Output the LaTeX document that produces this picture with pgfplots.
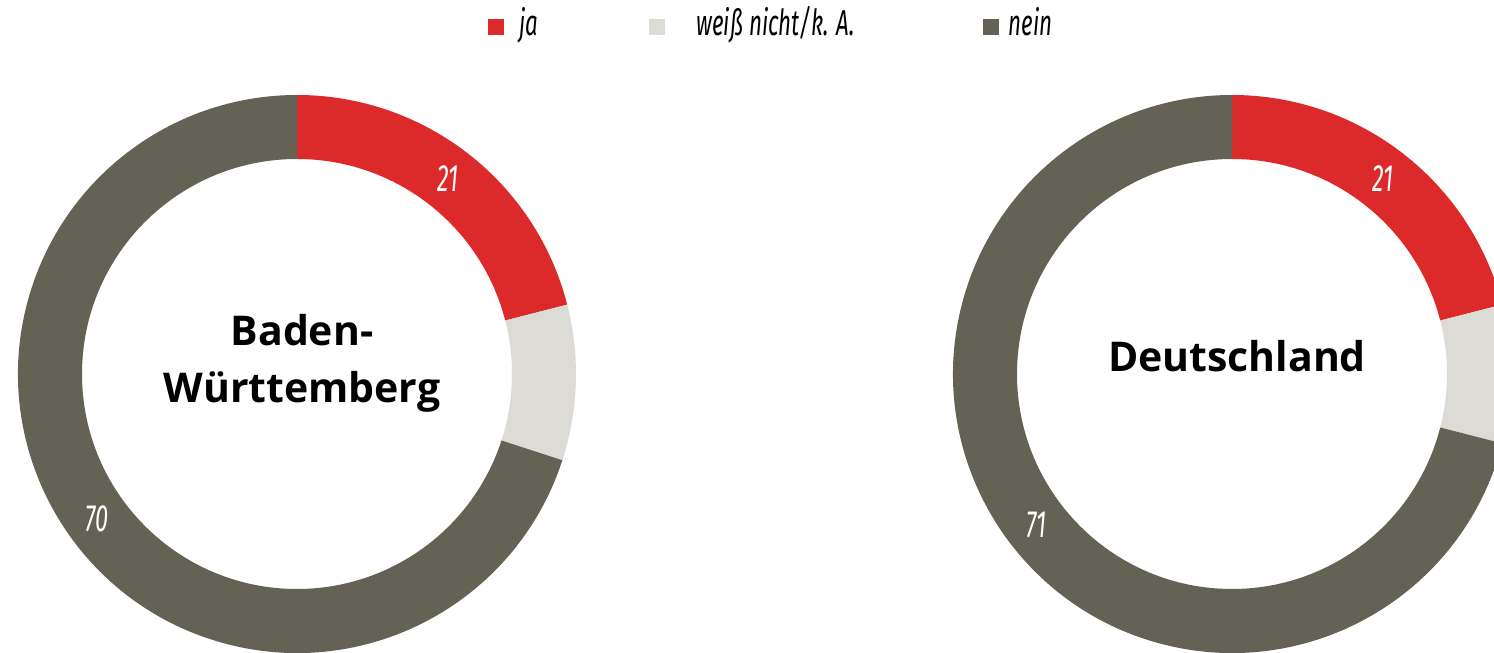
\documentclass[border=0pt]{standalone}
\usepackage{fontspec}
\setmainfont{Fira Sans}
\newfontfamily\legfont[FakeStretch=0.62]{Fira Sans}
\newfontfamily\boldfont{Open Sans}
\usepackage{pgfplots}
\usepackage{pgfplotstable}
\pgfplotsset{compat=1.18}
\definecolor{cja}{HTML}{DC2A2B}
\definecolor{cwn}{HTML}{DCDBD6}
\definecolor{cnein}{HTML}{646254}

\pgfplotstableread{
answer value color
ja 21 cja
wn 9 cwn
nein 70 cnein
}\bwtable
\pgfplotstableread{
answer value color
ja 21 cja
wn 8 cwn
nein 71 cnein
}\detable

% #1 table, #2 cx, #3 cy (axis units = pt)
\newcommand\donut[3]{%
  \def\cum{0}%
  \pgfplotstablegetrowsof{#1}%
  \pgfmathtruncatemacro\lastrow{\pgfplotsretval-1}%
  \pgfplotsforeachungrouped \r in {0,...,\lastrow}{%
    \pgfplotstablegetelem{\r}{value}\of{#1}\let\v\pgfplotsretval
    \pgfplotstablegetelem{\r}{color}\of{#1}\let\c\pgfplotsretval
    \pgfmathsetmacro\aone{90-3.6*\cum}%
    \pgfmathsetmacro\atwo{90-3.6*(\cum+\v)}%
    \pgfmathsetmacro\amid{(\aone+\atwo)/2}%
    \pgfmathsetmacro\cum{\cum+\v}%
    \edef\temp{\noexpand\fill[\c,shift={(axis cs:#2,#3)}] (\aone:279pt) arc[start angle=\aone,end angle=\atwo,radius=279pt] -- (\atwo:215pt) arc[start angle=\atwo,end angle=\aone,radius=215pt] -- cycle;}%
    \temp
    \ifnum\v>10
      \edef\temp{\noexpand\node[text=white,font=\noexpand\legfont\noexpand\itshape\noexpand\fontsize{38}{44}\noexpand\selectfont,shift={(axis cs:#2,#3)}] at (\amid:247pt) {\v};}%
      \temp
    \fi
  }%
}

\begin{document}
\begin{tikzpicture}
\begin{axis}[
  width=1494pt, height=653pt, scale only axis,
  xmin=0, xmax=1494, ymin=0, ymax=653,
  hide axis, clip=true,
]
\donut{\bwtable}{297}{279}
\donut{\detable}{1232}{279}

\node[font=\boldfont\bfseries\fontsize{41}{57}\selectfont, align=center] at (axis cs:302,290) {Baden-\\Württemberg};
\node[font=\boldfont\bfseries\fontsize{41}{57}\selectfont] at (axis cs:1237,297) {Deutschland};

% legend
\fill[cja] (axis cs:488,618) rectangle (axis cs:504,634);
\fill[cwn] (axis cs:649,618) rectangle (axis cs:665,634);
\fill[cnein] (axis cs:983,618) rectangle (axis cs:999,634);
\node[anchor=base west, font=\legfont\itshape\fontsize{36}{42}\selectfont] at (axis cs:516,617) {ja};
\node[anchor=base west, font=\legfont\itshape\fontsize{36}{42}\selectfont] at (axis cs:693,617) {weiß nicht/k. A.};
\node[anchor=base west, font=\legfont\itshape\fontsize{36}{42}\selectfont] at (axis cs:1005,617) {nein};
\end{axis}
\pgfresetboundingbox
\useasboundingbox (current axis.south west) rectangle (current axis.north east);
\end{tikzpicture}
\end{document}
